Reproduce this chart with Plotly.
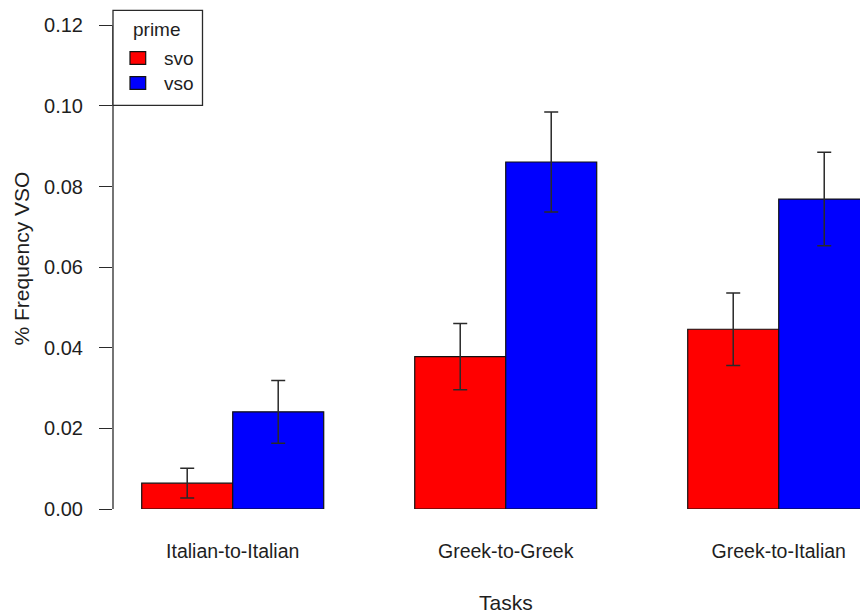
import plotly.graph_objects as go

tasks = ["Italian-to-Italian", "Greek-to-Greek", "Greek-to-Italian"]
svo_values = [0.0064, 0.0378, 0.0446]
vso_values = [0.0241, 0.0861, 0.0769]
svo_se = [0.0037, 0.0082, 0.0090]
vso_se = [0.0078, 0.0124, 0.0116]
y_ticks = [0.00, 0.02, 0.04, 0.06, 0.08, 0.10, 0.12]
y_tick_labels = ["0.00", "0.02", "0.04", "0.06", "0.08", "0.10", "0.12"]
legend_title = "prime"
series_names = ["svo", "vso"]
series_colors = ["#FF0000", "#0000FF"]

FONT = "Liberation Sans, Arial, sans-serif"
INK = "#1e1e1e"
LINE = "#2a2a2a"

fig = go.Figure()
for name, vals, se, col in zip(series_names, [svo_values, vso_values], [svo_se, vso_se], series_colors):
    fig.add_trace(go.Bar(
        name=name, x=tasks, y=vals,
        marker=dict(color=col, line=dict(color="#111111", width=1.2)),
        error_y=dict(type="data", array=se, color=LINE, thickness=1.5, width=7),
    ))

W, H = 860, 613
ml, mr, mt, mb = 113, 0, 6, 104
pw, ph = W - ml - mr, H - mt - mb


def px_x(x):
    return (x - ml) / pw


def px_y(y):
    return (H - mb - y) / ph


fig.update_layout(
    width=W, height=H,
    margin=dict(l=ml, r=mr, t=mt, b=mb, pad=0),
    paper_bgcolor="white", plot_bgcolor="white",
    barmode="group", bargap=1/3, bargroupgap=0,
    font=dict(family=FONT, color=INK, size=20),
    showlegend=False,
    xaxis=dict(
        type="category", range=[-0.4385, 2.2977],
        showline=False, showgrid=False, zeroline=False, ticks="",
        tickfont=dict(size=19.5, family=FONT, color=INK),
        ticklabelstandoff=28, automargin=False,
    ),
    yaxis=dict(
        range=[0, 0.1248], tickvals=y_ticks, ticktext=y_tick_labels,
        showline=False, showgrid=False, zeroline=False,
        ticks="outside", ticklen=13, tickwidth=1.3, tickcolor=LINE,
        tickfont=dict(size=20, family=FONT, color=INK),
        ticklabelstandoff=12, automargin=False,
    ),
)

# left axis line spanning first to last tick (R style)
fig.add_shape(type="line", xref="paper", yref="y", x0=0, x1=0,
              y0=y_ticks[0], y1=y_ticks[-1], line=dict(color=LINE, width=1.3))

# legend box (R style)
fig.add_shape(type="rect", xref="paper", yref="paper",
              x0=px_x(113), x1=px_x(202.5), y0=px_y(105.3), y1=px_y(10.3),
              line=dict(color=LINE, width=1.3), fillcolor="white", layer="above")
fig.add_annotation(text=legend_title, xref="paper", yref="paper",
                   x=px_x(156.7), y=px_y(29), showarrow=False,
                   font=dict(size=19, family=FONT, color=INK),
                   xanchor="center", yanchor="middle")
for i, (name, col) in enumerate(zip(series_names, series_colors)):
    top = 51.7 + i * 25
    fig.add_shape(type="rect", xref="paper", yref="paper",
                  x0=px_x(130), x1=px_x(145.7), y0=px_y(top + 12.6), y1=px_y(top),
                  line=dict(color="#111111", width=1.2), fillcolor=col, layer="above")
    fig.add_annotation(text=name, xref="paper", yref="paper",
                       x=px_x(161.5), y=px_y(top + 7), showarrow=False,
                       font=dict(size=19, family=FONT, color=INK),
                       xanchor="left", yanchor="middle")

fig.add_annotation(text="Tasks", xref="x", yref="paper", x=1, y=px_y(602),
                   showarrow=False, font=dict(size=21, family=FONT, color=INK),
                   xanchor="center", yanchor="middle")
fig.add_annotation(text="% Frequency VSO", xref="paper", yref="paper",
                   x=px_x(21), y=px_y(258.5), textangle=-90, showarrow=False,
                   font=dict(size=21, family=FONT, color=INK),
                   xanchor="center", yanchor="middle")

fig.write_html("out.html")
